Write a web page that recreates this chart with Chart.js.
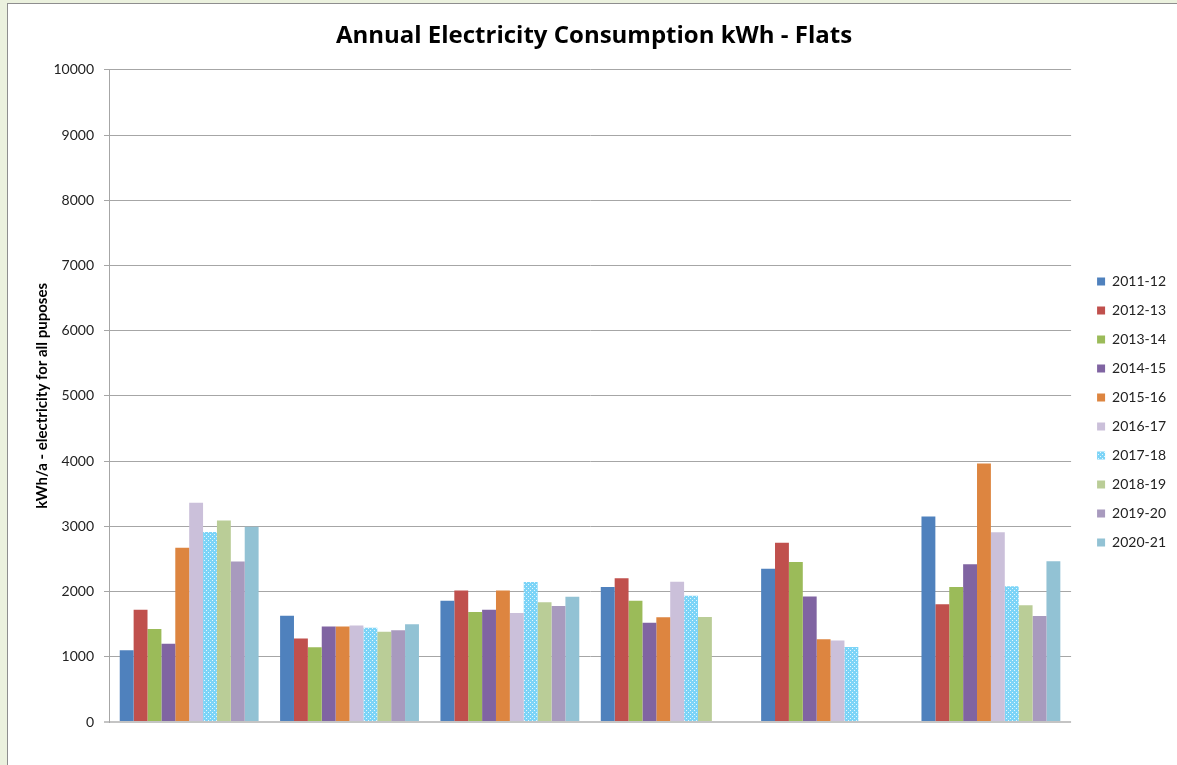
<!DOCTYPE html>
<html>
<head>
<meta charset="utf-8">
<title>Annual Electricity Consumption kWh - Flats</title>
<script src="https://cdn.jsdelivr.net/npm/chart.js@4.4.1/dist/chart.umd.min.js"></script>
<style>
  html, body { margin: 0; padding: 0; width: 1177px; height: 765px; overflow: hidden; background: #EBF1DE; }
  #frame {
    position: absolute; left: 7px; top: 3px; width: 1200px; height: 800px;
    background: #FFFFFF; border-left: 1px solid #8E8E8E; border-top: 1px solid #8E8E8E;
  }
  #chart { position: absolute; left: 0; top: 0; }
</style>
</head>
<body>
<div id="frame"></div>
<canvas id="chart" width="1177" height="765"></canvas>
<script>
// Six building groups, no category captions on the axis
const categories = ['', '', '', '', '', ''];

const seriesNames = ['2011-12', '2012-13', '2013-14', '2014-15', '2015-16',
                     '2016-17', '2017-18', '2018-19', '2019-20', '2020-21'];

// Annual consumption per season (kWh/a), one value per group
const v2011_12 = [1100, 1630, 1860, 2070, 2350, 3150];
const v2012_13 = [1720, 1280, 2015, 2205, 2750, 1805];
const v2013_14 = [1425, 1145, 1685, 1860, 2455, 2070];
const v2014_15 = [1200, 1465, 1720, 1520, 1925, 2420];
const v2015_16 = [2670, 1465, 2015, 1605, 1270, 3965];
const v2016_17 = [3360, 1480, 1670, 2150, 1250, 2910];
const v2017_18 = [2915, 1445, 2145, 1935, 1150, 2080];
const v2018_19 = [3090, 1385, 1835, 1610, null, 1790];
const v2019_20 = [2460, 1405, 1780, null, null, 1625];
const v2020_21 = [2995, 1500, 1920, null, null, 2465];

const yTicks = [0, 1000, 2000, 3000, 4000, 5000, 6000, 7000, 8000, 9000, 10000];

const seriesValues = [v2011_12, v2012_13, v2013_14, v2014_15, v2015_16,
                      v2016_17, v2017_18, v2018_19, v2019_20, v2020_21];

// Dotted light-blue fill used for the 2017-18 season
function dottedFill() {
  const tile = document.createElement('canvas');
  tile.width = 4; tile.height = 4;
  const t = tile.getContext('2d');
  t.fillStyle = '#7CD4F7';
  t.fillRect(0, 0, 4, 4);
  t.fillStyle = 'rgba(255,255,255,0.8)';
  t.fillRect(0, 0, 1, 1);
  t.fillRect(2, 2, 1, 1);
  return document.getElementById('chart').getContext('2d').createPattern(tile, 'repeat');
}

const fills = ['#4F81BD', '#C0504D', '#9BBB59', '#8064A2', '#DD8540',
               '#CBC0DA', dottedFill(), '#BACD97', '#A89ABE', '#92C2D4'];

const datasets = seriesNames.map((name, i) => ({
  label: name,
  data: seriesValues[i],
  backgroundColor: fills[i],
  borderWidth: 0,
  categoryPercentage: 0.866,
  barPercentage: 1.0
}));

const FONT = 'Lato, "Liberation Sans", sans-serif';

new Chart(document.getElementById('chart'), {
  type: 'bar',
  data: { labels: categories, datasets: datasets },
  options: {
    responsive: false,
    animation: false,
    layout: { padding: { left: 12, right: 1, top: 4, bottom: 35 } },
    plugins: {
      title: {
        display: true,
        text: 'Annual Electricity Consumption kWh - Flats',
        color: '#000000',
        font: { family: '"Open Sans", sans-serif', size: 24, weight: 'bold' },
        padding: { top: 18, bottom: 19 }
      },
      legend: {
        display: true,
        position: 'right',
        fullSize: false,
        title: { display: true, text: '', font: { size: 10 }, padding: { top: 20, bottom: 0 } },
        labels: {
          boxWidth: 8,
          boxHeight: 8,
          padding: 15,
          color: '#222222',
          font: { family: FONT, size: 14 }
        }
      },
      tooltip: { enabled: false }
    },
    scales: {
      x: {
        display: true,
        grid: { display: false },
        border: { display: false },
        ticks: { display: false }
      },
      y: {
        min: 0,
        max: 10000,
        afterBuildTicks: (scale) => { scale.ticks = yTicks.map(v => ({ value: v })); },
        afterFit: (scale) => { scale.width = 97; },
        ticks: {
          color: '#222222',
          padding: 10,
          font: { family: FONT, size: 14 },
          callback: (v) => String(v)
        },
        grid: {
          color: (c) => (c.tick && c.tick.value === 0) ? '#C4C4C4' : '#A6A6A6',
          lineWidth: (c) => (c.tick && c.tick.value === 0) ? 2 : 1,
          tickLength: 5
        },
        border: { display: true, color: '#A6A6A6', width: 1 },
        title: {
          display: true,
          text: 'kWh/a - electricity for all puposes',
          color: '#000000',
          font: { family: FONT, size: 15, weight: 'bold' },
          padding: { top: 21, bottom: 0 }
        }
      },
      gap: {
        axis: 'y',
        position: 'right',
        display: true,
        grid: { display: false },
        border: { display: false },
        ticks: { display: false },
        afterFit: (scale) => { scale.width = 11; }
      }
    }
  }
});
</script>
</body>
</html>
